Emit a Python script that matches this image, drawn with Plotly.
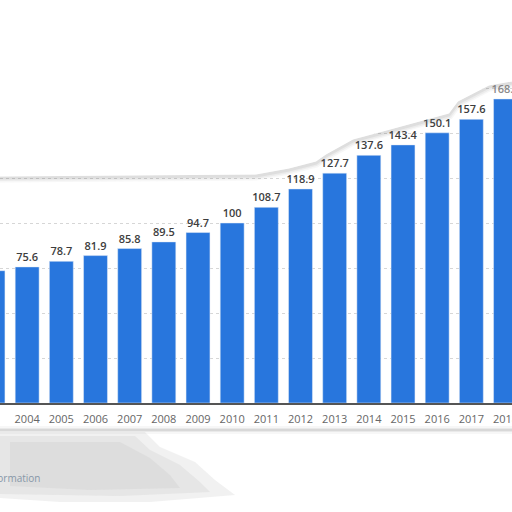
import plotly.graph_objects as go

# data
years = [str(y) for y in range(2003, 2019)]
values = [73.5, 75.6, 78.7, 81.9, 85.8, 89.5, 94.7, 100, 108.7, 118.9,
          127.7, 137.6, 143.4, 150.1, 157.6, 168.9]
labels = ["73.5", "75.6", "78.7", "81.9", "85.8", "89.5", "94.7", "100", "108.7",
          "118.9", "127.7", "137.6", "143.4", "150.1", "157.6", "168.9"]

W, H = 512, 512
BASE = 403  # pixel row of the x axis
PX_PER_UNIT = 1.8


def px(x, y):
    # pixel -> paper coords (plot area spans the full width, top to BASE)
    return x / W, (BASE - y) / BASE


def path(points, close=True):
    pts = [px(x, y) for x, y in points]
    d = "M " + " L ".join(f"{a:.4f},{b:.4f}" for a, b in pts)
    return d + (" Z" if close else "")


label_colors = ["#3d3d3d"] * (len(values) - 1) + ["#8a8a8a"]

fig = go.Figure(
    go.Bar(
        x=years,
        y=values,
        text=labels,
        textposition="outside",
        constraintext="none",
        cliponaxis=False,
        textfont=dict(family="Open Sans", size=11, color=label_colors, weight=600),
        marker_color="#2876dd",
        hoverinfo="skip",
    )
)

# torn top edge of the screenshot, soft shadow
edge = [(0, 178), (256, 176), (289, 170), (316, 163), (326, 156), (353, 141),
        (383, 133), (416, 124), (449, 115), (458, 103), (489, 87), (512, 83)]
for width, alpha in [(9, 0.06), (6, 0.08), (3, 0.12)]:
    fig.add_shape(type="path", xref="paper", yref="paper", layer="above",
                  path=path(edge, close=False),
                  line=dict(color=f"rgba(120,120,120,{alpha})", width=width))
fig.add_shape(type="path", xref="paper", yref="paper", layer="above",
              path=path([(0, -5)] + [(x, y - 1.5) for x, y in edge] + [(512, -5)]),
              fillcolor="white", line=dict(width=0))

# torn bottom edge with blurred remains
for width, alpha in [(8, 0.06), (4, 0.1), (2, 0.15)]:
    fig.add_shape(type="path", xref="paper", yref="paper", layer="above",
                  path=path([(0, 430), (512, 430)], close=False),
                  line=dict(color=f"rgba(120,120,120,{alpha})", width=width))
blobs = [
    [(0, 432), (145, 432), (160, 447), (195, 462), (215, 480), (235, 495),
     (150, 502), (60, 502), (0, 498)],
    [(0, 436), (135, 436), (150, 450), (180, 465), (200, 482), (210, 492),
     (120, 496), (0, 494)],
    [(10, 442), (120, 442), (150, 458), (170, 475), (180, 488), (90, 490),
     (10, 486)],
]
for pts in blobs:
    fig.add_shape(type="path", xref="paper", yref="paper", layer="above",
                  path=path(pts), fillcolor="rgba(190,190,190,0.22)",
                  line=dict(width=0))
fig.add_annotation(text="Additional Information", xref="paper", yref="paper",
                   x=px(42, 0)[0], y=px(0, 478)[1], xanchor="right", yanchor="middle",
                   showarrow=False, font=dict(family="Open Sans", size=10, color="#8797a8"))

fig.update_xaxes(
    type="category",
    range=[0.205, 15.19],
    automargin=False,
    showline=True,
    linecolor="#555",
    linewidth=2,
    ticks="",
    ticklabelstandoff=5,
    tickfont=dict(family="Open Sans", size=11, color="#666"),
    showgrid=False,
)
fig.update_yaxes(
    range=[0, BASE / PX_PER_UNIT],
    automargin=False,
    dtick=25,
    showticklabels=False,
    showgrid=True,
    gridcolor="#d6d6d6",
    griddash="dot",
    gridwidth=1,
    zeroline=False,
)
fig.update_layout(
    width=W,
    height=H,
    margin=dict(l=0, r=0, t=0, b=H - BASE),
    bargap=0.3,
    showlegend=False,
    plot_bgcolor="white",
    paper_bgcolor="white",
    hovermode=False,
)

fig.write_html(
    "out.html",
    config={"displayModeBar": False, "responsive": False},
    post_script="document.body.style.margin = '0'; document.body.style.overflow = 'hidden';",
)
